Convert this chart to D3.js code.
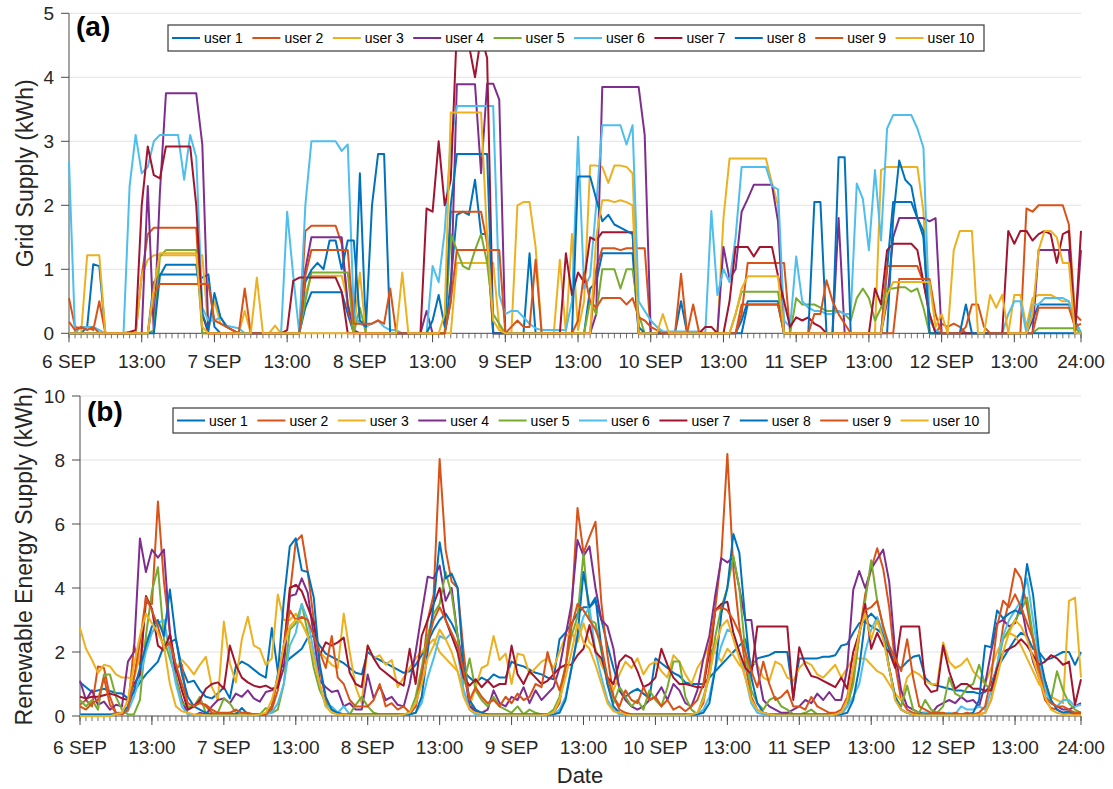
<!DOCTYPE html>
<html lang="en">
<head>
    <meta charset="UTF-8">
    <title>Grid and renewable energy supply per user</title>
    <script src="https://d3js.org/d3.v7.min.js"></script>
    <style>
        body { margin: 0; background: #fff; }
        svg { display: block; font-family: "Liberation Sans", Arial, sans-serif; }
    </style>
</head>
<body>
<script>
    // hourly values, 6 SEP 01:00 .. 12 SEP 24:00 (168 points), one line per day

    // ---- (a) grid supply, kWh ----
    var gridUser1 = [
        0,0,0,0.1,1.08,1.05,0,0,0,0,0,0,0,0,0.8,0.92,0.92,0.92,0.92,0.92,0.92,0.92,0.87,0.92,
        0.1,0,0,0,0,0,0,0,0,0,0,0,0,0,0,0.4,0.64,0.64,0.64,0.64,0.64,0.64,0.3,0,
        2.5,0,0,0,0,0,0,0,0,0,0,0,0,0,0,0.8,1.85,1.9,1.85,2.4,1.55,1.55,0,0,
        0,0,0,0,1.25,0,0,0,0,0,0,0,0,0,0.7,0.8,1.25,1.25,1.25,1.25,1.25,1.25,0,0,
        0,0,0,0,0,0.5,0,0,0,0,0,0,0,0,0,0.2,0.5,0.5,0.5,0.5,0.5,0.5,0,0,
        0,0,0,0,0,0,0,0,0,0,0,0,0,0,0,1.0,2.05,2.05,2.05,2.05,1.8,1.5,0,0,
        0,0,0,0,0,0,0,0,0,0,0,0,0,0,0,0.2,0.45,0.45,0.45,0.45,0.45,0.45,0.2,0
    ];
    var gridUser2 = [
        0.55,0.1,0.08,0.1,0.05,0.5,0,0,0,0,0,0,0.9,1.55,1.65,1.65,1.65,1.65,1.65,1.65,1.65,1.65,0,0,
        0,0,0,0,0,0,0,0,0,0,0,0,0,0,0,1.6,1.68,1.68,1.68,1.68,1.68,1.4,0.4,0,
        0,0,0,0,0,0,0,0,0,0,0,0,0,0,0,1.9,1.9,1.9,1.9,1.9,1.9,1.4,0,0,
        0,0,0,0,0,0,0,0,0,0,0,0,0,0,0,1.0,1.33,1.33,1.33,1.3,1.33,1.33,1.33,1.33,
        0,0,0,0,0,0.93,0,0,0,0,0,0,0,0,0,0.3,1.1,1.1,1.1,1.1,1.1,1.1,1.1,0,
        0,0,0,0,0,0,0,0,0,0,0,0,0,0,0,1.05,1.05,1.05,1.05,1.05,1.05,0.8,0.3,0,
        0.15,0.1,0.15,0.1,0,0,0,0,0,0,0,0,0,0,1.95,1.9,2.0,2.0,2.0,2.0,2.0,1.7,0.3,0.2
    ];
    var gridUser3 = [
        0,0,0,1.22,1.22,1.22,0,0,0,0,0,0,0.9,1.15,1.22,1.22,1.22,1.22,1.22,1.22,1.22,1.22,1.22,0.05,
        0.5,0.15,0.1,0.05,0,0.35,0,0,0,0,0.12,0,0,0,0,0.6,0.9,0.9,0.9,0.9,0.9,0.9,0.5,0,
        0.95,0,0,0,0,0,0,0,0,0,0,0,0,0,0,0,1.1,1.1,1.1,1.1,1.1,1.1,1.1,0.1,
        0,0,2.0,2.05,2.05,1.35,0,0,0,1.15,0,1.55,0.05,0.5,2.62,2.62,2.6,2.35,2.62,2.62,2.6,2.5,0,0,
        0,0,0,0,0,0,0,0,0,0,0,0,1.8,2.73,2.73,2.73,2.73,2.73,2.73,2.73,2.35,2.0,0,0,
        0,0,0,0,0,0,0,0,0,0,0,0,0,0,2.55,2.6,2.6,2.6,2.6,2.6,2.6,1.9,0,0,
        0,0,0,0,0,0,0,0,0,0,0,0,0.6,0.6,0.1,0.55,0.6,0.6,0.6,0.55,0.5,0.5,0.1,0
    ];
    var gridUser4 = [
        0,0,0,0,0,0,0,0,0,0,0,0,0,2.3,0,2.2,3.75,3.75,3.75,3.75,3.75,3.75,2.95,0,
        0,0,0,0,0,0,0,0,0,0,0,0,0,0,0,1.0,1.5,1.5,1.5,1.5,1.5,1.5,0.45,0.05,
        0,0,0,0,0,0,0,0,0,0,0,0.35,0,0,0,0.5,3.89,3.89,3.89,3.89,2.5,3.9,3.9,3.65,
        0,0,0,0,0,0,0,0,0,0,0,0,0,0,0,0.3,3.85,3.85,3.85,3.85,3.85,3.85,3.85,3.1,
        0,0,0,0,0,0,0,0,0,0,0,0,1.35,0.85,1.0,1.9,2.1,2.32,2.32,2.32,2.32,1.75,0,0,
        0,0,0,0,0,0,0,1.8,0,0,0,0,0,0,0,0.5,1.5,1.8,1.8,1.8,1.8,1.8,1.75,1.8,
        0,0,0,0,0,0,0,0,0,0,0,0,0,0,0,0,1.3,1.3,1.3,1.3,1.3,1.3,0,1.3
    ];
    var gridUser5 = [
        0,0,0,0,0,0,0,0,0,0,0,0,0,0,0.05,1.2,1.3,1.3,1.3,1.3,1.3,1.3,0,0,
        0,0,0,0,0,0,0,0,0,0,0,0,0,0,0,0.5,0.95,0.95,0.95,0.95,0.95,0.95,0.95,0,
        0.4,0,0,0,0,0,0,0,0,0,0,0,0,0,0,1.55,1.3,1.05,1.0,1.3,1.55,1.1,0.3,0.15,
        0,0,0,0,0,0,0,0,0,0,0,0,0,0,0.5,0.3,1.0,1.0,1.0,0.7,1.0,1.0,0.3,0,
        0,0,0,0,0,0,0,0,0,0,0,0,0,0,0.3,0.65,0.65,0.65,0.65,0.65,0.65,0.65,0,0,
        0.55,0.45,0.45,0.45,0.4,0.35,0.35,0.35,0.3,0.2,0.55,0.7,0.55,0.2,0.4,0.7,0.7,0.72,0.72,0.65,0.7,0.4,0,0,
        0,0,0,0,0,0,0,0,0,0,0,0,0,0,0,0,0.08,0.08,0.08,0.08,0.08,0.08,0.08,0
    ];
    var gridUser6 = [
        2.68,0,0.1,0.1,0.1,0.05,0,0,0,0,2.3,3.1,2.5,2.6,3.0,3.1,3.1,3.1,3.1,2.4,3.1,2.75,0.4,0.2,
        0.2,0.25,0.12,0.1,0.08,0,0,0,0,0,0,0,1.9,0.9,0,2.0,3.0,3.0,3.0,3.0,3.0,2.85,2.95,0.3,
        0.15,0.1,0.15,0.2,0.1,0.05,0.05,0,0,0,0,0,1.05,0.8,1.6,3.0,3.55,3.55,3.55,3.55,3.55,3.55,3.55,0.6,
        0.3,0.35,0.35,0.25,0.15,0.08,0.05,0.05,0.05,0.05,0.05,0.5,3.07,0.7,0.9,2.0,3.25,3.25,3.25,3.25,2.95,3.25,0.5,0.35,
        0.2,0.1,0.03,0.03,0.03,0.03,0.03,0.03,0.03,0,1.91,0.6,1.0,0.8,1.5,2.6,2.6,2.6,2.6,2.6,2.3,2.25,0.2,0.1,
        1.2,0.5,0.4,0.35,0.35,0.3,0.3,0.35,0.3,0.3,2.34,2.1,1.3,2.55,1.45,3.2,3.41,3.41,3.41,3.41,3.2,2.9,0.2,0.05,
        0,0,0,0,0,0,0,0,0,0,0,0.3,0.5,0.5,0,0.45,0.45,0.55,0.55,0.55,0.55,0.5,0.2,0
    ];
    var gridUser7 = [
        0,0,0,0,0,0,0,0,0,0,0.02,0.05,2.0,2.92,2.47,2.42,2.92,2.92,2.92,2.92,2.92,2.0,0.3,0,
        0,0,0,0,0,0,0,0,0,0,0,0,0.05,0.82,0.87,0.87,0.87,0.87,0.87,0.87,0.87,0.65,0,0,
        0,0,0,0,0,0,0,0,0,0,0,1.95,1.9,3.0,2.0,2.4,4.75,4.7,4.5,4.0,4.65,4.3,0,0,
        0,0,0,0,0,0,0,0,0,0,1.25,0.6,0.95,0.8,1.5,1.45,1.58,1.58,1.58,1.58,1.58,1.58,0,0,
        0,0,0,0,0,0,0,0,0,0.1,0.1,0,0,0.5,1.35,1.35,1.35,1.2,1.35,1.35,1.35,0.9,0.5,0.1,
        0.25,0.2,0.25,0.15,0.1,0,0,0,0,0,0,0,0,0.7,0.45,1.3,1.4,1.4,1.4,1.4,1.3,0.8,0.3,0,
        0,0,0,0,0,0,0,0,0,0,0,1.6,1.4,1.6,1.6,1.45,1.55,1.6,1.55,1.1,1.55,1.6,0,1.6
    ];
    var gridUser8 = [
        0,0,0,0,0,0,0,0,0,0,0,0,0,0,0,0.9,1.07,1.07,1.07,1.07,1.07,1.07,0.3,0.05,
        0.63,0.25,0.1,0.05,0,0,0,0,0,0,0,0,0,0,0,0.8,0.99,1.1,1.0,1.45,1.45,1.0,1.45,1.45,
        0.2,0.1,2.0,2.8,2.8,0,0,0,0,0,0,0,0.2,0.6,0.1,2.0,2.8,2.8,2.8,2.8,2.8,2.8,0,0,
        0,0,0,0,0,0,0,0,0,0,0,0,2.45,2.45,2.45,2.1,1.75,1.85,1.7,1.65,1.6,1.55,0.1,0,
        0,0,0,0,0,0,0,0,0,0,0,0,0,0,0,0,0.45,0.45,0.45,0.45,0.45,0.45,0,0,
        0,0,0,2.05,2.05,0,0,2.75,2.75,0,0,0,0,0,0,0,1.8,2.7,2.4,2.3,1.8,1.6,0,0,
        0,0,0,0,0.45,0,0,0,0,0,0,0,0,0,0,0,0,0,0,0,0,0,0,0
    ];
    var gridUser9 = [
        0.18,0.05,0.1,0.05,0.1,0,0,0,0,0,0,0,0,0,0.6,0.77,0.77,0.77,0.77,0.77,0.77,0.77,0.77,0.77,
        0.2,0.15,0.1,0.05,0,0.7,0,0,0,0,0,0,0,0,0,0.9,1.3,1.3,1.3,1.3,1.3,1.3,1.3,0.15,
        0.15,0.15,0.15,0.2,0.15,0.7,0,0,0,0,0,0,0,0,0,0.5,1.3,1.3,1.3,1.3,1.3,1.3,1.3,1.3,
        0,0.1,0.2,0.1,0.1,1.15,0,0,0,0,0,0,0.2,0.95,0.5,0.4,0.55,0.55,0.55,0.55,0.45,0.55,0.25,0.2,
        0.1,0.05,0,0,0,0,0,0.45,0,0,0,0,0,0,0,0.45,0.45,0.45,0.45,0.45,0.45,0.45,0,0,
        0,0,0,0.3,0.3,0.83,0.5,0.3,0.15,0,0,0,0,0,0,0,0,0.85,0.85,0.85,0.85,0.85,0.85,0.3,
        0,0,0,0,0.1,0.45,0.45,0.1,0,0,0,0,0,0,0,0,0.4,0.4,0.4,0.4,0.4,0.4,0.1,0.15
    ];
    var gridUser10 = [
        0,0,0,0,0,0,0,0,0,0,0,0,0,0,0.7,1.25,1.25,1.25,1.25,1.25,1.25,1.25,0.1,0,
        0,0,0,0,0,0,0,0.87,0,0,0,0,0,0,0,0,0,0,0,0,0,0,0,0,
        0,0,0,0,0,0,0,0.95,0,0,0,0,0,0,0.3,3.45,3.45,3.45,3.45,3.45,3.45,1.5,0.2,0.05,
        0,0,0,0,0,0,0,0,0,0,0,0,0,0,0,1.5,2.08,2.08,2.05,2.08,2.05,2.0,0,0,
        0,0,0.3,0,0,0,0,0,0,0,0,0,0,0,0.3,0.7,0.89,0.89,0.89,0.89,0.89,0.89,0,0,
        0,0,0,0,0,0,0,0,0,0,0,0,0,0,0,0.6,0.8,0.8,0.8,0.8,0.8,0.8,0.8,0.1,
        0.3,0,1.3,1.6,1.6,1.6,0,0,0.6,0.4,0.6,0,0,0,0,0.3,1.3,1.6,1.6,1.5,1.1,1.1,0,0
    ];

    // ---- (b) renewable energy supply, kWh ----
    var renewUser1 = [
        1.05,0.9,0.75,0.8,0.85,0.78,0.72,0.7,0.55,0.75,1.05,1.3,1.5,1.7,2.2,2.3,2.4,1.5,1.05,1.1,0.8,0.6,0.55,0.7,
        0.9,0.55,1.55,1.7,1.6,1.45,1.3,1.2,2.75,1.4,1.6,1.8,1.95,2.1,2.45,2.5,2.2,1.95,1.85,1.75,1.65,1.5,1.35,1.3,
        2.0,1.85,1.75,1.65,1.55,1.45,1.35,1.4,1.6,1.9,2.3,2.7,3.0,3.2,2.9,2.5,1.4,1.2,1.05,1.2,1.1,1.3,1.2,1.2,
        1.7,1.6,1.55,1.45,1.35,1.3,1.2,1.15,2.4,2.6,2.9,3.2,3.4,3.4,3.6,3.0,2.2,1.5,0.9,0.6,0.75,0.85,0.7,0.55,
        1.8,1.65,1.5,1.35,1.25,1.05,1.0,1.0,1.0,1.2,1.4,1.6,1.8,2.0,2.2,2.4,1.5,1.8,1.85,1.9,2.0,2.0,2.0,0.6,
        1.8,1.8,1.8,1.8,1.85,1.85,1.9,2.2,2.25,2.6,2.9,2.95,2.8,2.7,2.55,2.1,1.6,1.5,1.7,1.85,1.9,1.2,1.0,0.95,
        0.9,0.85,0.8,0.8,0.75,0.75,0.7,0.75,1.0,1.5,1.8,2.1,2.4,2.6,2.5,2.1,2.0,1.75,1.8,1.9,2.0,2.0,1.6,2.0
    ];
    var renewUser2 = [
        0.35,0.5,0.3,1.55,1.5,0.6,0.1,0.05,0.2,2.2,1.6,3.55,3.5,6.7,4.2,2.6,1.5,1.6,0.2,0.3,0.45,0.3,0.1,0.05,
        0.05,0.1,0.05,0.05,0.05,0.05,0.05,0.05,0.2,0.8,2.2,3.8,5.45,5.65,4.5,3.0,1.5,0.5,0.2,0.1,0.05,0.05,0.05,0.05,
        0.05,0.05,0.05,0.05,0.05,0.05,0.05,0.05,0.3,1.2,3.0,3.8,8.03,5.2,4.2,4.0,2.0,0.4,0.1,0.05,0.05,0.05,0.05,0.05,
        0.05,0.05,0.05,0.05,0.05,0.05,0.05,0.1,0.4,1.5,3.3,6.5,5.1,5.6,6.07,3.5,1.9,0.6,0.2,0.1,0.05,0.05,0.05,0.05,
        0.05,0.05,0.05,0.05,0.05,0.05,0.05,0.1,0.4,1.5,3.4,5.0,8.19,4.6,2.8,1.6,0.6,0.2,0.1,0.05,0.05,0.05,0.05,0.05,
        0.05,0.05,0.05,0.05,0.05,0.05,0.05,0.1,0.3,1.2,2.5,3.8,4.6,5.24,4.6,3.4,1.6,0.5,0.2,0.1,0.05,0.05,0.05,0.05,
        0.05,0.05,0.05,0.05,0.05,0.05,0.05,0.1,0.5,1.5,2.8,3.6,4.6,4.3,3.4,2.4,1.2,0.5,0.25,0.2,0.1,0.1,0.05,0.05
    ];
    var renewUser3 = [
        2.75,2.1,1.75,1.35,1.6,1.55,1.3,1.2,1.2,1.15,1.9,2.4,2.6,2.9,2.7,2.2,1.5,1.75,1.55,1.3,1.6,1.85,0.9,0.5,
        2.95,1.65,1.05,2.4,3.1,2.2,2.1,1.6,1.8,3.8,3.0,3.0,3.2,2.9,2.5,1.9,2.0,1.8,1.6,1.5,3.2,2.0,0.9,0.4,
        2.2,1.8,1.9,1.6,1.75,0.9,1.2,1.5,1.8,2.0,2.2,2.4,2.0,1.8,1.6,1.4,0.8,0.3,0.9,1.5,1.6,2.5,1.75,1.95,
        1.0,1.95,1.9,1.3,1.5,1.7,1.8,1.5,2.0,2.5,2.6,2.3,2.9,2.3,2.1,1.6,1.2,0.8,1.3,1.7,1.5,1.8,1.3,1.6,
        1.7,1.4,1.2,1.9,1.7,1.3,1.0,1.5,1.8,2.2,2.0,1.7,2.1,1.9,1.6,1.4,1.7,1.6,1.2,1.1,1.7,1.6,1.2,1.1,
        1.5,1.7,1.6,1.3,1.2,1.4,1.6,1.2,1.5,1.8,1.8,1.8,1.6,1.4,1.3,1.0,0.7,0.5,1.2,1.4,1.3,1.1,1.0,1.0,
        2.3,1.7,1.5,1.6,1.8,1.4,1.2,1.0,1.5,2.0,2.4,2.6,2.5,2.2,1.8,1.4,1.0,0.8,0.6,0.5,0.4,3.6,3.7,1.2
    ];
    var renewUser4 = [
        1.1,0.5,0.8,0.35,0.45,0.2,0.35,0.3,1.7,2.0,5.55,4.5,5.2,4.95,5.2,2.6,1.2,0.5,0.05,0.02,0.1,0.05,0.3,0.5,
        0.55,0.4,0.7,0.6,0.8,0.55,0.45,0.75,0.8,0.9,1.5,3.75,3.8,4.3,3.85,2.5,1.1,0.9,0.75,0.8,0.3,0.4,0.2,0.2,
        1.3,0.55,0.95,0.5,0.6,0.35,0.3,1.0,2.0,3.2,4.35,4.3,4.7,3.6,4.0,2.5,1.5,0.3,0.15,0.1,0.2,0.8,0.4,0.3,
        0.6,0.5,0.9,0.4,0.8,0.5,0.7,0.9,1.5,2.5,3.5,5.5,5.0,5.3,4.0,3.0,2.8,2.1,0.8,0.5,0.3,0.2,0.3,0.5,
        0.6,0.9,0.5,1.0,0.8,0.4,0.3,0.8,1.8,2.5,3.8,4.93,4.8,4.95,4.0,3.0,3.0,1.5,0.5,0.3,0.2,0.1,0.1,0.2,
        0.3,0.5,0.4,0.7,0.5,0.75,0.5,0.5,1.5,3.94,4.53,4.0,4.6,4.9,5.2,4.2,2.0,0.8,0.3,0.2,0.1,0.1,0.05,0.3,
        0.4,0.5,0.4,0.6,0.45,0.5,0.3,1.0,2.0,2.9,3.0,2.8,2.9,3.5,2.5,1.7,1.2,1.1,0.4,0.3,0.2,0.2,0.3,0.4
    ];
    var renewUser5 = [
        0.5,0.3,0.5,0.2,1.3,1.3,0.6,0.2,0.05,0.05,0.5,2.5,3.9,4.65,2.4,1.8,1.2,0.4,0.3,0.3,0.6,0.1,0.05,0.1,
        0.55,0.4,0.1,0.05,0.05,0.05,0.05,0.25,0.1,0.2,1.0,2.7,2.9,3.5,2.6,1.5,0.8,0.4,0.2,0.05,0.05,0.05,0.35,0.6,
        0.3,0.1,0.05,0.05,0.05,0.05,0.05,0.1,0.6,1.5,2.5,3.2,3.5,4.5,3.8,2.5,1.0,1.8,0.8,0.5,0.3,0.6,0.3,0.2,
        0.1,0.3,0.05,0.2,0.1,0.05,0.05,0.2,0.6,1.6,2.5,3.1,5.08,3.0,2.9,2.0,1.0,0.4,0.9,0.6,0.3,0.5,0.2,0.8,
        0.5,0.3,0.9,1.7,1.7,0.6,0.2,0.05,0.6,1.2,2.5,3.4,4.0,5.0,4.0,2.0,0.8,0.4,0.2,0.5,0.6,0.3,0.2,0.05,
        0.05,0.1,0.2,0.05,0.05,0.05,0.05,0.05,0.3,1.0,2.5,3.6,4.87,3.6,2.8,1.5,0.6,0.3,0.95,0.2,0.1,0.5,0.2,0.1,
        0.3,1.2,0.7,0.6,0.9,1.0,1.6,1.0,0.8,1.5,2.4,2.7,3.0,3.3,3.7,2.5,1.6,1.0,0.5,1.4,0.8,0.4,0.2,0.1
    ];
    var renewUser6 = [
        0.05,0.05,0.05,0.05,0.05,0.05,0.1,0.1,0.15,0.6,1.2,2.0,2.6,2.9,3.0,2.0,1.0,0.3,0.05,0.02,0.02,0.02,0.02,0.02,
        0.02,0.02,0.02,0.02,0.02,0.02,0.02,0.05,0.1,0.4,1.0,2.2,2.6,3.5,3.0,2.0,1.0,0.3,0.3,0.1,0.3,0.05,0.02,0.02,
        0.02,0.02,0.02,0.02,0.02,0.02,0.02,0.05,0.1,0.4,1.2,1.8,2.5,2.4,2.6,2.0,0.8,0.2,0.05,0.02,0.02,0.02,0.02,0.02,
        0.02,0.02,0.02,0.02,0.02,0.02,0.02,0.05,0.2,0.6,1.5,2.5,3.1,3.4,2.0,1.2,0.5,0.2,0.05,0.02,0.02,0.02,0.02,0.02,
        0.02,0.02,0.02,0.02,0.02,0.02,0.02,0.05,0.2,0.6,1.5,2.2,2.7,2.6,2.0,1.2,0.4,0.1,0.05,0.02,0.02,0.02,0.02,0.02,
        0.02,0.02,0.02,0.02,0.02,0.02,0.02,0.05,0.3,0.6,1.0,2.0,2.7,3.1,2.6,1.5,0.5,0.2,0.1,0.05,0.05,0.1,0.1,0.05,
        0.05,0.1,0.05,0.3,0.2,0.2,0.3,0.2,0.8,1.6,2.5,3.0,3.3,3.6,4.3,3.0,1.8,0.8,0.4,0.3,0.5,0.5,0.3,0.35
    ];
    var renewUser7 = [
        0.6,0.55,0.6,0.6,0.65,0.7,0.65,0.55,0.5,1.0,1.3,3.75,3.35,2.2,2.05,2.55,1.5,0.8,0.2,0.3,0.5,0.85,1.0,1.05,
        0.85,2.2,1.6,1.2,1.05,0.95,0.9,0.95,0.85,0.9,2.0,4.0,4.1,3.9,3.4,2.9,1.9,2.3,2.2,2.3,2.45,1.35,1.0,0.9,
        2.2,1.8,1.5,1.35,1.2,1.05,0.95,2.1,1.0,2.5,3.0,3.5,4.0,3.0,2.5,2.0,1.2,0.95,1.15,0.9,1.1,0.9,1.0,1.0,
        2.2,1.3,1.0,1.4,1.2,1.0,1.1,1.3,1.5,1.6,1.6,1.9,2.1,2.84,2.0,1.8,1.2,1.0,1.7,1.9,1.8,1.4,0.9,1.0,
        1.2,2.1,1.6,1.2,1.0,1.0,0.95,0.9,0.9,2.0,3.3,3.5,3.57,2.6,2.0,1.5,1.3,2.8,2.8,2.8,2.8,2.8,2.8,0.5,
        2.15,1.6,1.25,1.2,1.1,1.0,0.9,1.2,0.85,2.0,2.6,3.5,2.1,2.6,2.2,2.0,1.5,2.8,2.8,2.8,2.8,1.0,0.75,0.8,
        2.2,1.4,0.85,1.0,1.0,0.85,0.85,0.8,0.8,1.5,2.0,2.1,2.2,2.4,2.2,1.9,1.6,1.7,1.9,1.8,1.6,1.7,0.35,1.15
    ];
    var renewUser8 = [
        0.05,0.05,0.05,0.05,0.05,0.05,0.05,0.1,0.3,0.8,1.5,2.2,2.8,3.0,2.5,3.95,2.4,1.3,0.6,0.3,0.2,0.1,0.05,0.05,
        0.05,0.05,0.05,0.25,0.05,0.05,0.05,0.05,0.3,1.3,3.6,5.3,5.55,4.55,4.5,3.7,1.6,0.6,0.2,0.1,0.05,0.05,0.05,0.05,
        0.05,0.05,0.05,0.05,0.05,0.05,0.05,0.05,0.1,0.6,2.0,3.5,5.43,4.3,4.45,4.0,1.5,0.5,0.2,0.1,0.05,0.05,0.05,0.05,
        0.05,0.05,0.05,0.05,0.05,0.05,0.05,0.05,0.1,0.5,1.5,2.5,4.5,3.4,3.7,2.1,1.0,0.3,0.1,0.05,0.05,0.05,0.05,0.05,
        0.05,0.05,0.05,0.05,0.05,0.05,0.05,0.05,0.1,0.4,1.5,3.2,4.0,5.69,5.1,3.0,1.2,0.4,0.1,0.05,0.05,0.05,0.05,0.05,
        0.05,0.05,0.05,0.05,0.05,0.05,0.05,0.05,0.1,0.5,1.5,3.0,3.2,3.0,2.5,1.5,0.6,0.2,0.1,0.05,0.05,0.05,0.05,0.05,
        0.05,0.05,0.05,0.05,0.05,0.1,0.5,2.2,2.15,3.3,3.05,3.2,3.3,3.2,4.75,3.8,2.0,1.1,0.5,0.2,0.1,0.15,0.1,0.1
    ];
    var renewUser9 = [
        0.3,0.2,0.4,0.5,1.2,0.35,0.1,0.05,0.2,1.2,2.3,3.7,3.3,2.8,2.1,2.3,1.6,1.0,0.4,0.3,0.4,0.35,0.2,0.1,
        0.1,0.1,0.2,0.1,0.1,0.05,0.05,0.05,0.3,1.2,2.2,3.3,3.0,3.1,3.0,2.5,2.0,1.5,2.5,1.2,1.0,0.5,0.3,0.3,
        0.3,0.5,1.0,0.3,0.4,0.2,0.3,0.1,0.3,1.3,2.3,3.0,3.4,3.0,2.6,2.2,1.4,0.5,0.9,0.6,0.4,0.5,0.3,0.6,
        0.4,0.7,0.5,0.6,1.0,0.9,2.0,1.3,0.8,1.5,2.8,3.5,3.3,3.0,2.7,2.2,1.2,0.6,0.3,0.8,0.5,0.4,0.9,0.5,
        0.6,0.3,0.5,0.2,0.3,0.15,0.3,0.5,1.0,2.2,3.3,3.4,3.3,3.0,2.6,2.0,1.4,0.9,1.7,1.0,0.5,0.6,0.8,0.3,
        0.3,0.2,0.6,0.3,0.2,0.1,0.1,0.2,0.6,1.5,2.6,3.3,3.4,3.6,2.8,2.2,1.8,1.4,2.4,1.2,0.3,0.2,0.1,0.1,
        0.1,0.05,0.1,0.05,0.1,0.05,0.1,0.3,1.2,2.8,3.6,3.4,3.8,3.4,2.9,2.4,1.5,0.6,0.4,0.3,0.3,0.2,0.1,0.1
    ];
    var renewUser10 = [
        0,0,0,0,0,0,0.05,0.1,0.5,1.6,2.5,3.2,2.9,2.6,2.2,1.0,0.3,0.15,0.1,0.05,0.05,0.02,0.02,0.02,
        0.02,0.02,0.02,0.02,0.02,0.02,0.05,0.1,0.5,1.2,2.2,2.8,3.0,2.9,2.5,1.8,1.0,0.3,0.1,0.05,0.05,0.02,0.02,0.02,
        0.02,0.02,0.02,0.02,0.02,0.02,0.05,0.1,0.4,1.0,1.8,2.2,2.7,2.4,2.0,1.4,0.6,0.2,0.1,0.05,0.02,0.02,0.02,0.02,
        0.02,0.02,0.02,0.02,0.02,0.02,0.05,0.1,0.5,1.2,2.0,2.9,2.3,2.1,1.6,1.0,0.4,0.15,0.1,0.05,0.02,0.02,0.02,0.02,
        0.02,0.02,0.02,0.02,0.02,0.02,0.05,0.1,0.5,1.3,2.2,2.8,3.0,2.4,1.8,1.2,0.5,0.2,0.1,0.05,0.02,0.02,0.02,0.02,
        0.02,0.02,0.02,0.02,0.02,0.02,0.05,0.1,0.5,1.5,2.6,3.2,2.4,3.0,2.4,1.5,0.5,0.2,0.1,0.05,0.02,0.02,0.02,0.02,
        0.02,0.02,0.02,0.02,0.02,0.02,0.05,0.1,0.5,1.2,2.0,2.6,3.0,2.8,2.4,1.8,1.2,0.6,0.2,0.1,0.05,0.02,0.02,0.02
    ];

    var users = ["user 1", "user 2", "user 3", "user 4", "user 5",
                 "user 6", "user 7", "user 8", "user 9", "user 10"];
    var tickHours = [0, 12, 24, 36, 48, 60, 72, 84, 96, 108, 120, 132, 144, 156, 167];
    var tickLabels = ["6 SEP", "13:00", "7 SEP", "13:00", "8 SEP", "13:00", "9 SEP", "13:00",
                      "10 SEP", "13:00", "11 SEP", "13:00", "12 SEP", "13:00", "24:00"];

    var gridSeries = [gridUser1, gridUser2, gridUser3, gridUser4, gridUser5,
                      gridUser6, gridUser7, gridUser8, gridUser9, gridUser10];
    var renewSeries = [renewUser1, renewUser2, renewUser3, renewUser4, renewUser5,
                       renewUser6, renewUser7, renewUser8, renewUser9, renewUser10];

    // MATLAB default line colours, cycling after 7
    var colors = ["#0072BD", "#D95319", "#EDB120", "#7E2F8E", "#77AC30",
                  "#4DBEEE", "#A2142F", "#0072BD", "#D95319", "#EDB120"];

    var w = 1113;
    var h = 789;
    var textColor = "#262626";

    var svg = d3.select("body")
        .append("svg")
        .attr("width", w)
        .attr("height", h);

    function drawPanel(p) {
        var xScale = d3.scaleLinear()
            .domain([0, 167])
            .range([p.left, p.right]);
        var yScale = d3.scaleLinear()
            .domain([0, p.yMax])
            .range([p.bottom, p.top]);

        var g = svg.append("g");

        // horizontal grid
        g.selectAll(".grid")
            .data(p.yTicks.filter(function(d) { return d > 0; }))
            .enter()
            .append("line")
            .attr("x1", p.left)
            .attr("x2", p.right)
            .attr("y1", function(d) { return yScale(d); })
            .attr("y2", function(d) { return yScale(d); })
            .attr("stroke", "#e2e2e2")
            .attr("stroke-width", 1);

        // axes lines
        g.append("line")
            .attr("x1", p.left).attr("x2", p.left)
            .attr("y1", p.top).attr("y2", p.bottom)
            .attr("stroke", "#4a4a4a").attr("stroke-width", 1);
        g.append("line")
            .attr("x1", p.left).attr("x2", p.right)
            .attr("y1", p.bottom).attr("y2", p.bottom)
            .attr("stroke", "#4a4a4a").attr("stroke-width", 1);

        // y ticks and labels
        g.selectAll(".ytick")
            .data(p.yTicks)
            .enter()
            .append("line")
            .attr("x1", p.left - 8)
            .attr("x2", p.left)
            .attr("y1", function(d) { return yScale(d); })
            .attr("y2", function(d) { return yScale(d); })
            .attr("stroke", "#4a4a4a");
        g.selectAll(".ylab")
            .data(p.yTicks)
            .enter()
            .append("text")
            .attr("x", p.left - 15)
            .attr("y", function(d) { return yScale(d); })
            .attr("dy", "0.36em")
            .attr("text-anchor", "end")
            .attr("font-size", "19px")
            .attr("fill", textColor)
            .text(function(d) { return d; });

        // minor x ticks every hour, major ones at the labels
        g.selectAll(".xminor")
            .data(d3.range(0, 168))
            .enter()
            .append("line")
            .attr("x1", function(d) { return xScale(d); })
            .attr("x2", function(d) { return xScale(d); })
            .attr("y1", p.bottom)
            .attr("y2", p.bottom + 5)
            .attr("stroke", "#4a4a4a")
            .attr("stroke-width", 0.8);
        g.selectAll(".xmajor")
            .data(tickHours)
            .enter()
            .append("line")
            .attr("x1", function(d) { return xScale(d); })
            .attr("x2", function(d) { return xScale(d); })
            .attr("y1", p.bottom)
            .attr("y2", p.bottom + 9)
            .attr("stroke", "#4a4a4a");
        g.selectAll(".xlab")
            .data(tickHours)
            .enter()
            .append("text")
            .attr("x", function(d) { return xScale(d); })
            .attr("y", p.bottom + p.xLabelGap)
            .attr("text-anchor", "middle")
            .attr("font-size", "19px")
            .attr("fill", textColor)
            .text(function(d, i) { return tickLabels[i]; });

        // data lines, user 1 first so user 10 sits on top
        var line = d3.line()
            .x(function(d, i) { return xScale(i); })
            .y(function(d) { return yScale(d); });

        g.selectAll(".series")
            .data(p.series)
            .enter()
            .append("path")
            .attr("d", line)
            .attr("fill", "none")
            .attr("stroke", function(d, i) { return colors[i]; })
            .attr("stroke-width", 2)
            .attr("stroke-linejoin", "round");

        // y axis title
        g.append("text")
            .attr("transform", "translate(" + p.yTitleX + "," + ((p.top + p.bottom) / 2) + ") rotate(-90)")
            .attr("text-anchor", "middle")
            .attr("font-size", "23px")
            .attr("fill", textColor)
            .text(p.yTitle);

        // panel letter
        g.append("text")
            .attr("x", p.letterX)
            .attr("y", p.letterY)
            .attr("font-size", "28px")
            .attr("font-weight", "bold")
            .attr("fill", "#000")
            .text(p.letter);

        // legend
        var lg = g.append("g");
        lg.append("rect")
            .attr("x", p.legendX)
            .attr("y", p.legendY)
            .attr("width", 816)
            .attr("height", p.legendH)
            .attr("fill", "#fff")
            .attr("stroke", "#3a3a3a")
            .attr("stroke-width", 1.2);

        var entries = lg.selectAll(".entry")
            .data(users)
            .enter()
            .append("g")
            .attr("transform", function(d, i) {
                return "translate(" + (p.legendX + 36 + i * 80.4) + "," + (p.legendY + p.legendH / 2) + ")";
            });
        entries.append("line")
            .attr("x1", -32)
            .attr("x2", -4)
            .attr("stroke", function(d, i) { return colors[i]; })
            .attr("stroke-width", 2);
        entries.append("text")
            .attr("x", 0)
            .attr("dy", "0.36em")
            .attr("font-size", "14px")
            .attr("fill", "#000")
            .text(function(d) { return d; });
    }

    drawPanel({
        left: 69, right: 1081, top: 13.3, bottom: 333.3,
        yMax: 5, yTicks: [0, 1, 2, 3, 4, 5],
        series: gridSeries,
        xLabelGap: 35,
        yTitle: "Grid Supply (kWh)", yTitleX: 33,
        letter: "(a)", letterX: 76, letterY: 36,
        legendX: 168, legendY: 25, legendH: 26
    });

    drawPanel({
        left: 80, right: 1081, top: 396, bottom: 716,
        yMax: 10, yTicks: [0, 2, 4, 6, 8, 10],
        series: renewSeries,
        xLabelGap: 38,
        yTitle: "Renewable Energy Supply (kWh)", yTitleX: 32,
        letter: "(b)", letterX: 87, letterY: 421,
        legendX: 173, legendY: 408, legendH: 25
    });

    // shared x axis title
    svg.append("text")
        .attr("x", 580)
        .attr("y", 783)
        .attr("text-anchor", "middle")
        .attr("font-size", "22px")
        .attr("fill", textColor)
        .text("Date");
</script>
</body>
</html>
